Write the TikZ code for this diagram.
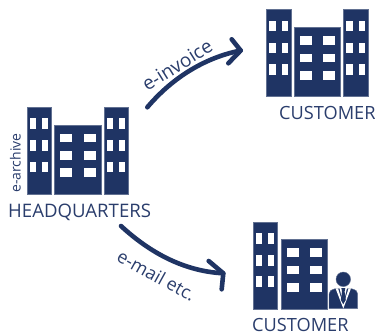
\documentclass[tikz,border=0pt]{standalone}
\usepackage{fontspec}
\setmainfont{Open Sans}
\definecolor{navy}{HTML}{1F3464}
\definecolor{txt}{HTML}{2A3D6C}
\tikzset{
  x=1pt,y=-1pt,
  block/.style={fill=navy,draw=navy!70,line width=.4pt},
  pane/.style={fill=white,draw=none},
  flow/.style={draw=navy,line width=4.6pt,line cap=round,line join=round},
  lab/.style={text=txt,inner sep=0pt,font=\fontsize{#1}{#1}\selectfont},
  lab/.default=17
}
\newcommand{\tower}[4]{% x,y-top,x-win1,x-win2 (relative values)
  \fill[block] (#1,#2) rectangle ++(24.5,87);
  \foreach \r in {11,33,54.5}{
    \fill[pane] (#1+3,#2+\r) rectangle ++(6.2,10.8);
    \fill[pane] (#1+15.2,#2+\r) rectangle ++(6.2,10.8);
  }}
\newcommand{\midblock}[3]{% x,y-bottom,height
  \fill[block] (#1,#2) rectangle ++(46.7,-#3);
  \foreach \r in {60.3,43,25.6}{
    \fill[pane] (#1+5.8,#2-\r) rectangle ++(12,8.7);
    \fill[pane] (#1+29.2,#2-\r) rectangle ++(12,8.7);
  }}
\begin{document}
\begin{tikzpicture}
\useasboundingbox (0,0) rectangle (375,335);
% headquarters
\tower{27}{107}{}{}
\midblock{54.5}{194}{69}
\tower{104}{107}{}{}
% customer 1
\tower{266.3}{9.5}{}{}
\midblock{293.8}{96.5}{69}
\tower{343.3}{9.5}{}{}
% customer 2
\tower{253}{221.7}{}{}
\midblock{280.8}{308.7}{69.4}
% person
\fill[block] (343.3,279.3) circle (7.3);
\fill[block] (329,308.7) -- (329,294) .. controls (329,291) and (331,290) .. (335,288.7)
  -- (343.3,288.7) -- (351.5,288.7) .. controls (356,290) and (357.7,291) .. (357.7,294) -- (357.7,308.7) -- cycle;
\fill[pane] (335.5,288.3) -- (338,288.3) -- (343.3,305) -- (348.6,288.3) -- (351,288.3) -- (343.3,308.5) -- cycle;
\fill[pane] (339.5,288) -- (347,288) -- (343.3,304) -- cycle;
\fill[navy] (341.3,288) -- (345.3,288) -- (344.6,291.5) -- (345.8,300) -- (343.3,304) -- (340.8,300) -- (342,291.5) -- cycle;
% labels
\node[lab=18.6,anchor=base west] (hq) at (8,217) {HEADQUARTERS};
\node[lab=18.2,anchor=base west] (c1) at (279,119) {CUSTOMER};
\node[lab=18.2,anchor=base west] (c2) at (252,331) {CUSTOMER};
\node[lab=14,anchor=base west,rotate=90] (arch) at (20.5,193) {e-archive};
\node[lab=19,rotate=32] (inv) at (177,65) {e-invoice};
\node[lab=18,rotate=-29] (mail) at (156.5,275.5) {e-mail etc.};
% connectors
\coordinate (a1) at (147.3,107.3);
\coordinate (a2) at (240.7,50.5);
\coordinate (b1) at (121,226);
\coordinate (b2) at (223.3,273.3);
\draw[flow] (a1) .. controls (167,84) and (198,59) .. (a2);
\draw[flow] (231.7,39.3) -- (a2) -- (228.3,63.3);
\draw[flow] (b1) .. controls (146,249) and (180,271) .. (b2);
\draw[flow] (208.7,261) -- (b2) -- (221.7,289.3);
\end{tikzpicture}
\end{document}
